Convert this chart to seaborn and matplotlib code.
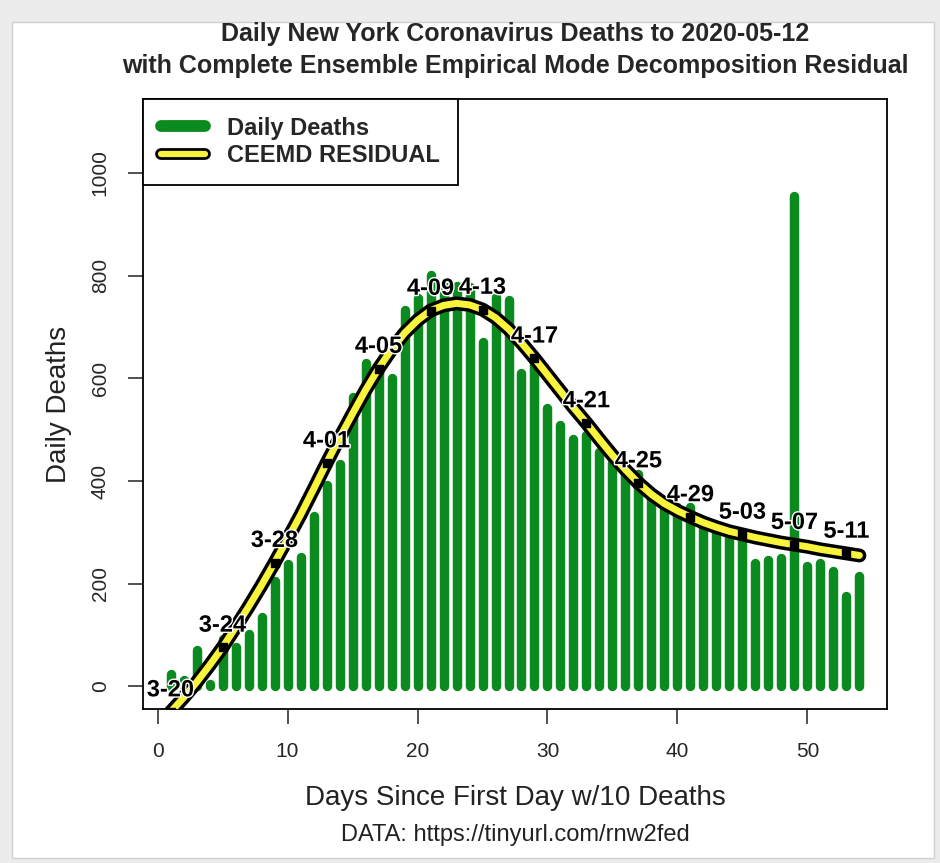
import numpy as np
import pandas as pd
import seaborn as sns
import matplotlib
matplotlib.use('Agg')
import matplotlib.pyplot as plt
import matplotlib.patheffects as pe
from matplotlib.lines import Line2D
from matplotlib.patches import Rectangle

sns.set_style('ticks')
plt.rcParams['font.family'] = ['Liberation Sans', 'DejaVu Sans']

# Days since first day with 10 deaths (day 1 = 3-20)
days = list(range(1, 55))
deaths = [24, 12, 70, 5, 92, 77, 102, 135, 205, 238,
          253, 331, 393, 434, 564, 630, 615, 601, 733, 756,
          801, 779, 780, 778, 671, 758, 752, 611, 630, 543,
          510, 481, 490, 457, 436, 426, 413, 374, 349, 349,
          350, 324, 304, 298, 290, 240, 247, 250, 955, 234,
          241, 224, 177, 215]
residual = [-50, -22, 8, 41, 76, 115, 155, 197, 241, 287,
            334, 384, 435, 484, 531, 577, 619, 656, 688, 713,
            732, 742, 746, 743, 734, 718, 696, 669, 639, 607,
            575, 543, 513, 481, 450, 422, 396, 374, 356, 342,
            330, 319, 310, 302, 296, 290, 285, 280, 276, 272,
            267, 263, 259, 255]
label_days = [1, 5, 9, 13, 17, 21, 25, 29, 33, 37, 41, 45, 49, 53]
label_text = ['3-20', '3-24', '3-28', '4-01', '4-05', '4-09', '4-13',
              '4-17', '4-21', '4-25', '4-29', '5-03', '5-07', '5-11']

df = pd.DataFrame({'day': days, 'deaths': deaths, 'residual': residual})
marks = df[df.day.isin(label_days)]

green = '#0b8a1f'
yellow = '#f8f43c'

fig = plt.figure(figsize=(9.4, 8.63), dpi=100)
fig.patch.set_facecolor('#ececec')
fig.add_artist(Rectangle((12 / 940, 5 / 863), 922 / 940, 836 / 863, transform=fig.transFigure,
                         facecolor='white', edgecolor='#d0d0d0', lw=1, zorder=0))
ax = fig.add_axes([143 / 940, 1 - 709 / 863, 744 / 940, 610 / 863])
ax.set_facecolor('white')

# bars drawn as thick round-capped lines
ax.vlines(df.day, 0, df.deaths, color=green, lw=6.8, capstyle='round', zorder=2)

sns.lineplot(data=df, x='day', y='residual', ax=ax, color=yellow, lw=5,
             solid_capstyle='round', zorder=3,
             path_effects=[pe.Stroke(linewidth=10, foreground='black'), pe.Normal()])
ax.scatter(marks.day, marks.residual, s=30, marker='s', color='black', zorder=4)

for d, v, t in zip(marks.day, marks.residual, label_text):
    ax.annotate(t, (d, v), xytext=(0, 16), textcoords='offset points', ha='center', va='center',
                fontsize=17, fontweight='bold', color='black', zorder=5, annotation_clip=False,
                path_effects=[pe.withStroke(linewidth=2, foreground='white')])

ax.set_xlim(-1.12, 56.12)
ax.set_ylim(-44, 1144)
ax.set_xticks([0, 10, 20, 30, 40, 50])
ax.set_yticks([0, 200, 400, 600, 800, 1000])
ax.tick_params(axis='both', length=11, width=1.2, color='#333333', labelsize=15, pad=13)
ax.tick_params(axis='y', labelrotation=90)
for lab in ax.get_yticklabels():
    lab.set_va('center')
for s in ax.spines.values():
    s.set_color('black')
    s.set_linewidth(1.3)

ax.set_title('Daily New York Coronavirus Deaths to 2020-05-12\n'
             'with Complete Ensemble Empirical Mode Decomposition Residual',
             fontsize=18, fontweight='bold', pad=19, linespacing=1.4)
ax.set_xlabel('Days Since First Day w/10 Deaths', fontsize=20, color='#222222')
ax.xaxis.set_label_coords(0.5, -0.125)
ax.set_ylabel('Daily Deaths', fontsize=20, color='#222222')
ax.yaxis.set_label_coords(-0.095, 0.5)
fig.text(515 / 940, 1 - 835 / 863, 'DATA: https://tinyurl.com/rnw2fed', ha='center', va='center',
         fontsize=17, color='#222222')

handles = [
    Line2D([], [], color=green, lw=8.5, solid_capstyle='round'),
    Line2D([], [], color=yellow, lw=4.5, solid_capstyle='round',
           path_effects=[pe.Stroke(linewidth=8.5, foreground='black'), pe.Normal()]),
]
leg = ax.legend(handles, ['Daily Deaths', 'CEEMD RESIDUAL'], loc='upper left', borderaxespad=0,
                prop={'weight': 'bold', 'size': 17}, fancybox=False, framealpha=1,
                handlelength=1.87, handletextpad=0.95, borderpad=0.75, labelspacing=0.2)
leg.get_frame().set_edgecolor('black')
leg.get_frame().set_linewidth(1.3)

fig.savefig('out.png', dpi=100)
